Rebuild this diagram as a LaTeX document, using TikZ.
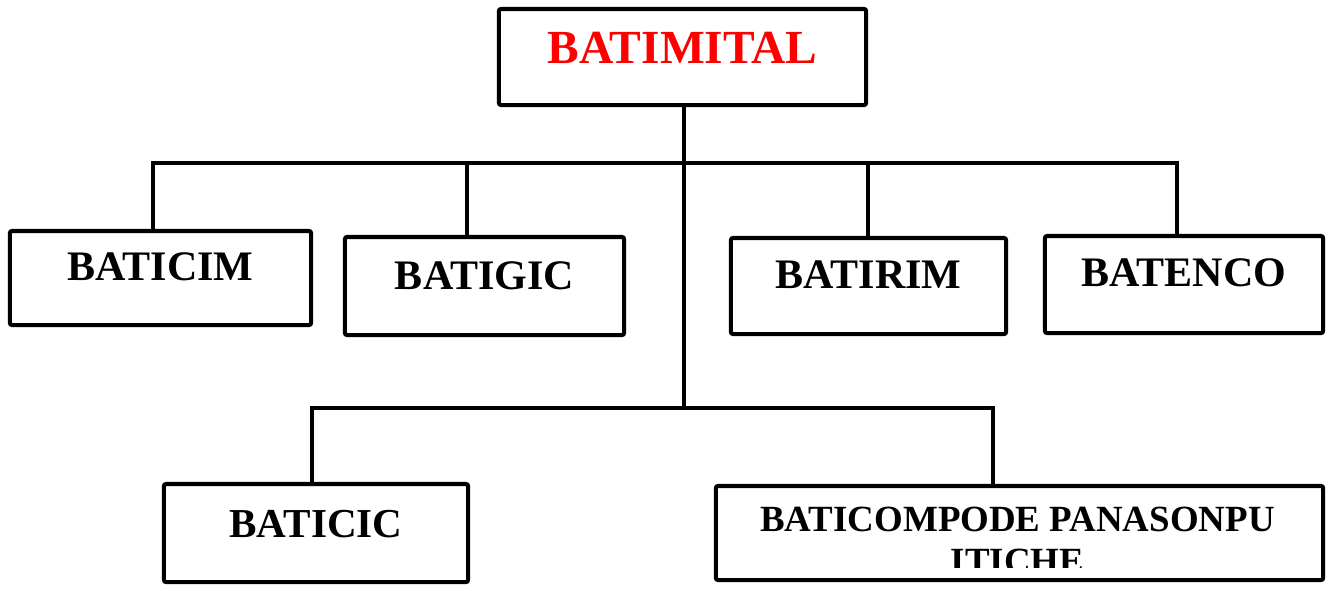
\documentclass[tikz,border=0pt]{standalone}
\usepackage{fontspec}
\setmainfont{Liberation Serif}
\definecolor{HoldingRed}{RGB}{255,0,0}
\usetikzlibrary{positioning, calc}
\tikzset{
  unitbox/.style={draw=black, line width=1.15pt, rounded corners=0.6pt, inner sep=0pt,
                  anchor=base, fill=white, font=\fontsize{11.95}{13}\selectfont\bfseries},
  wire/.style={draw=black, line width=1.15pt}
}

\begin{document}
\begin{tikzpicture}[x=0.01cm, y=-0.01cm]
    \useasboundingbox (0,0) rectangle (1328,590);

    % holding
    \node[unitbox, minimum width=3.67cm, text height=0.54cm, text depth=0.42cm,
          font=\fontsize{13.5}{15}\selectfont\bfseries, text=HoldingRed]
          (holding) at (682.5,63) {BATIMITAL};

    % first row
    \node[unitbox, minimum width=3.01cm, text height=0.49cm, text depth=0.45cm]
          (baticim) at (160.5,280) {BATICIM};
    \node[unitbox, minimum width=2.79cm, text height=0.52cm, text depth=0.46cm]
          (batigic) at (484.5,289) {BATIGIC};
    \node[unitbox, minimum width=2.75cm, text height=0.50cm, text depth=0.46cm]
          (batirim) at (868.5,288) {BATIRIM};
    \node[unitbox, minimum width=2.78cm, text height=0.50cm, text depth=0.47cm]
          (batenco) at (1184,286) {BATENCO};

    % second row
    \node[unitbox, minimum width=3.04cm, text height=0.53cm, text depth=0.45cm,
          font=\fontsize{11.7}{13}\selectfont\bfseries]
          (baticic) at (316,537) {BATICIC};
    \node[unitbox, anchor=center, minimum width=6.07cm, minimum height=0.94cm]
          (baticompo) at (1019.5,533) {};
    \begin{scope}
      \clip (716,486) rectangle (1323,567);
      \node[inner sep=0pt, anchor=base, align=center,
            font=\fontsize{10.5}{11.7}\selectfont\bfseries]
            (baticompotext) at (1017.5,573) {BATICOMPODE PANASONPU\\ITICHE};
    \end{scope}

    % connectors
    \coordinate (hub) at (684,163);
    \coordinate (lowhub) at (684,408);
    \coordinate (cimtop) at (153,163);
    \coordinate (gictop) at (467,163);
    \coordinate (rimtop) at (868,163);
    \coordinate (encotop) at (1177,163);
    \coordinate (cictop) at (312,408);
    \coordinate (compotop) at (993,408);

    \draw[wire] (holding.south -| hub) -- (lowhub);
    \draw[wire] (baticim.north -| cimtop) -- (cimtop) -- (encotop) -- (batenco.north -| encotop);
    \draw[wire] (batigic.north -| gictop) -- (gictop);
    \draw[wire] (batirim.north -| rimtop) -- (rimtop);
    \draw[wire] (baticic.north -| cictop) -- (cictop) -- (compotop) -- (baticompo.north -| compotop);
\end{tikzpicture}
\end{document}
